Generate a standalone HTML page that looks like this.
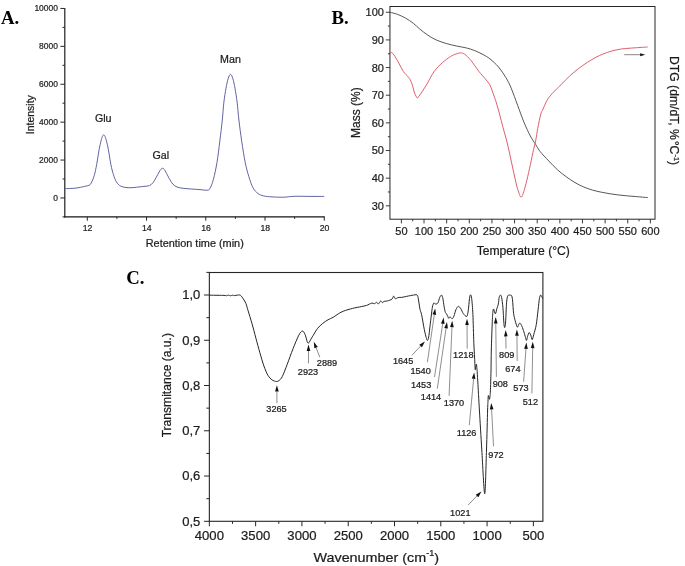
<!DOCTYPE html>
<html><head><meta charset="utf-8"><title>Figure</title>
<style>
html,body{margin:0;padding:0;background:#fff;}
body{width:685px;height:566px;overflow:hidden;font-family:"Liberation Sans",sans-serif;}
svg{display:block;opacity:0.999;will-change:transform;filter:blur(0.38px);}
</style></head><body>
<svg width="685" height="566" viewBox="0 0 685 566">
<rect x="0" y="0" width="685" height="566" fill="#ffffff"/>
<line x1="64.80" y1="7.96" x2="64.80" y2="217.40" stroke="#161616" stroke-width="1.15" />
<line x1="64.30" y1="216.90" x2="324.80" y2="216.90" stroke="#161616" stroke-width="1.15" />
<line x1="60.40" y1="197.95" x2="64.80" y2="197.95" stroke="#262626" stroke-width="1.0" />
<text transform="translate(57.90,197.45) scale(0.94,1)" y="3.22" font-size="9.0" text-anchor="end" font-weight="normal" font-family="'Liberation Sans', sans-serif" fill="#1c1c1c" stroke="#1c1c1c" stroke-width="0.22">0</text>
<line x1="60.40" y1="160.05" x2="64.80" y2="160.05" stroke="#262626" stroke-width="1.0" />
<text transform="translate(57.90,159.55) scale(0.94,1)" y="3.22" font-size="9.0" text-anchor="end" font-weight="normal" font-family="'Liberation Sans', sans-serif" fill="#1c1c1c" stroke="#1c1c1c" stroke-width="0.22">2000</text>
<line x1="60.40" y1="122.15" x2="64.80" y2="122.15" stroke="#262626" stroke-width="1.0" />
<text transform="translate(57.90,121.65) scale(0.94,1)" y="3.22" font-size="9.0" text-anchor="end" font-weight="normal" font-family="'Liberation Sans', sans-serif" fill="#1c1c1c" stroke="#1c1c1c" stroke-width="0.22">4000</text>
<line x1="60.40" y1="84.25" x2="64.80" y2="84.25" stroke="#262626" stroke-width="1.0" />
<text transform="translate(57.90,83.75) scale(0.94,1)" y="3.22" font-size="9.0" text-anchor="end" font-weight="normal" font-family="'Liberation Sans', sans-serif" fill="#1c1c1c" stroke="#1c1c1c" stroke-width="0.22">6000</text>
<line x1="60.40" y1="46.35" x2="64.80" y2="46.35" stroke="#262626" stroke-width="1.0" />
<text transform="translate(57.90,45.85) scale(0.94,1)" y="3.22" font-size="9.0" text-anchor="end" font-weight="normal" font-family="'Liberation Sans', sans-serif" fill="#1c1c1c" stroke="#1c1c1c" stroke-width="0.22">8000</text>
<line x1="60.40" y1="8.45" x2="64.80" y2="8.45" stroke="#262626" stroke-width="1.0" />
<text transform="translate(57.90,7.95) scale(0.94,1)" y="3.22" font-size="9.0" text-anchor="end" font-weight="normal" font-family="'Liberation Sans', sans-serif" fill="#1c1c1c" stroke="#1c1c1c" stroke-width="0.22">10000</text>
<line x1="62.50" y1="216.90" x2="64.80" y2="216.90" stroke="#262626" stroke-width="1.0" />
<line x1="62.50" y1="179.00" x2="64.80" y2="179.00" stroke="#262626" stroke-width="1.0" />
<line x1="62.50" y1="141.10" x2="64.80" y2="141.10" stroke="#262626" stroke-width="1.0" />
<line x1="62.50" y1="103.20" x2="64.80" y2="103.20" stroke="#262626" stroke-width="1.0" />
<line x1="62.50" y1="65.30" x2="64.80" y2="65.30" stroke="#262626" stroke-width="1.0" />
<line x1="62.50" y1="27.40" x2="64.80" y2="27.40" stroke="#262626" stroke-width="1.0" />
<line x1="87.30" y1="216.90" x2="87.30" y2="220.70" stroke="#262626" stroke-width="1.0" />
<text transform="translate(87.60,227.50) scale(0.95,1)" y="3.29" font-size="9.2" text-anchor="middle" font-weight="normal" font-family="'Liberation Sans', sans-serif" fill="#1c1c1c" stroke="#1c1c1c" stroke-width="0.22">12</text>
<line x1="146.54" y1="216.90" x2="146.54" y2="220.70" stroke="#262626" stroke-width="1.0" />
<text transform="translate(146.84,227.50) scale(0.95,1)" y="3.29" font-size="9.2" text-anchor="middle" font-weight="normal" font-family="'Liberation Sans', sans-serif" fill="#1c1c1c" stroke="#1c1c1c" stroke-width="0.22">14</text>
<line x1="205.78" y1="216.90" x2="205.78" y2="220.70" stroke="#262626" stroke-width="1.0" />
<text transform="translate(206.08,227.50) scale(0.95,1)" y="3.29" font-size="9.2" text-anchor="middle" font-weight="normal" font-family="'Liberation Sans', sans-serif" fill="#1c1c1c" stroke="#1c1c1c" stroke-width="0.22">16</text>
<line x1="265.02" y1="216.90" x2="265.02" y2="220.70" stroke="#262626" stroke-width="1.0" />
<text transform="translate(265.32,227.50) scale(0.95,1)" y="3.29" font-size="9.2" text-anchor="middle" font-weight="normal" font-family="'Liberation Sans', sans-serif" fill="#1c1c1c" stroke="#1c1c1c" stroke-width="0.22">18</text>
<line x1="324.26" y1="216.90" x2="324.26" y2="220.70" stroke="#262626" stroke-width="1.0" />
<text transform="translate(324.56,227.50) scale(0.95,1)" y="3.29" font-size="9.2" text-anchor="middle" font-weight="normal" font-family="'Liberation Sans', sans-serif" fill="#1c1c1c" stroke="#1c1c1c" stroke-width="0.22">20</text>
<line x1="116.92" y1="216.90" x2="116.92" y2="218.90" stroke="#262626" stroke-width="1.0" />
<line x1="176.16" y1="216.90" x2="176.16" y2="218.90" stroke="#262626" stroke-width="1.0" />
<line x1="235.40" y1="216.90" x2="235.40" y2="218.90" stroke="#262626" stroke-width="1.0" />
<line x1="294.64" y1="216.90" x2="294.64" y2="218.90" stroke="#262626" stroke-width="1.0" />
<text transform="translate(30.20,114.70) rotate(-90)" y="3.76" font-size="10.5" text-anchor="middle" font-weight="normal" font-family="'Liberation Sans', sans-serif" fill="#1c1c1c" stroke="#1c1c1c" stroke-width="0.22">Intensity</text>
<text transform="translate(194.75,243.50)" y="3.90" font-size="10.9" text-anchor="middle" font-weight="normal" font-family="'Liberation Sans', sans-serif" fill="#1c1c1c" stroke="#1c1c1c" stroke-width="0.22">Retention time (min)</text>
<text transform="translate(103.20,118.40)" y="3.83" font-size="10.7" text-anchor="middle" font-weight="normal" font-family="'Liberation Sans', sans-serif" fill="#1c1c1c" stroke="#1c1c1c" stroke-width="0.22">Glu</text>
<text transform="translate(160.80,155.00)" y="3.83" font-size="10.7" text-anchor="middle" font-weight="normal" font-family="'Liberation Sans', sans-serif" fill="#1c1c1c" stroke="#1c1c1c" stroke-width="0.22">Gal</text>
<text transform="translate(230.50,59.50)" y="3.83" font-size="10.7" text-anchor="middle" font-weight="normal" font-family="'Liberation Sans', sans-serif" fill="#1c1c1c" stroke="#1c1c1c" stroke-width="0.22">Man</text>
<text transform="translate(1.00,24.40) scale(1.03,1)" y="0.00" font-size="18.2" text-anchor="start" font-weight="bold" font-family="'Liberation Serif', serif" fill="#000" stroke="#000" stroke-width="0">A.</text>
<path d="M65.30,188.60 C66.42,188.57 69.88,188.53 72.00,188.40 C74.12,188.27 76.27,188.05 78.00,187.80 C79.73,187.55 81.07,187.18 82.40,186.90 C83.73,186.62 84.87,186.38 86.00,186.10 C87.13,185.82 88.35,185.70 89.20,185.20 C90.05,184.70 90.27,184.68 91.10,183.10 C91.93,181.52 93.28,178.78 94.20,175.70 C95.12,172.62 95.83,168.93 96.65,164.60 C97.47,160.27 98.38,153.62 99.10,149.70 C99.82,145.78 100.45,143.32 101.00,141.10 C101.55,138.88 101.95,137.43 102.40,136.40 C102.85,135.37 103.27,134.90 103.70,134.90 C104.13,134.90 104.53,135.37 105.00,136.40 C105.47,137.43 105.93,138.88 106.50,141.10 C107.07,143.32 107.67,145.78 108.40,149.70 C109.13,153.62 110.07,160.47 110.90,164.60 C111.73,168.73 112.48,171.62 113.40,174.50 C114.32,177.38 115.17,179.95 116.40,181.90 C117.63,183.85 119.03,185.25 120.80,186.20 C122.57,187.15 124.97,187.37 127.00,187.60 C129.03,187.83 130.80,187.73 133.00,187.60 C135.20,187.47 138.20,187.02 140.20,186.80 C142.20,186.58 143.47,186.50 145.00,186.30 C146.53,186.10 148.07,186.20 149.40,185.60 C150.73,185.00 151.88,184.03 153.00,182.70 C154.12,181.37 155.08,179.38 156.10,177.60 C157.12,175.82 158.30,173.38 159.10,172.00 C159.90,170.62 160.33,169.93 160.90,169.30 C161.47,168.67 161.97,168.20 162.50,168.20 C163.03,168.20 163.55,168.67 164.10,169.30 C164.65,169.93 164.93,170.45 165.80,172.00 C166.67,173.55 168.12,176.57 169.30,178.60 C170.48,180.63 171.62,182.80 172.90,184.20 C174.18,185.60 175.30,186.32 177.00,187.00 C178.70,187.68 180.72,187.97 183.10,188.30 C185.48,188.63 188.48,188.78 191.30,189.00 C194.12,189.22 197.37,189.40 200.00,189.60 C202.63,189.80 205.45,190.37 207.10,190.20 C208.75,190.03 208.85,190.40 209.90,188.60 C210.95,186.80 212.22,183.77 213.40,179.40 C214.58,175.03 215.93,168.77 217.00,162.40 C218.07,156.03 218.92,148.27 219.80,141.20 C220.68,134.13 221.62,126.52 222.30,120.00 C222.98,113.48 223.28,107.38 223.90,102.10 C224.52,96.82 225.30,92.18 226.00,88.30 C226.70,84.42 227.35,81.13 228.10,78.80 C228.85,76.47 229.70,74.30 230.50,74.30 C231.30,74.30 232.15,76.47 232.90,78.80 C233.65,81.13 234.30,84.42 235.00,88.30 C235.70,92.18 236.45,96.82 237.10,102.10 C237.75,107.38 238.13,113.48 238.90,120.00 C239.67,126.52 240.65,134.13 241.70,141.20 C242.75,148.27 244.02,156.52 245.20,162.40 C246.38,168.28 247.50,172.27 248.80,176.50 C250.10,180.73 251.47,184.97 253.00,187.80 C254.53,190.63 256.23,192.15 258.00,193.50 C259.77,194.85 261.27,195.33 263.60,195.90 C265.93,196.47 268.65,196.68 272.00,196.90 C275.35,197.12 280.00,197.30 283.70,197.20 C287.40,197.10 289.82,196.43 294.20,196.30 C298.58,196.17 304.98,196.38 310.00,196.40 C315.02,196.42 321.92,196.40 324.30,196.40" fill="none" stroke="#585c9c" stroke-width="0.95" stroke-linejoin="round"/>
<rect x="389.95" y="6.5" width="265.05" height="212.70" fill="none" stroke="#262626" stroke-width="1.0"/>
<line x1="385.85" y1="205.81" x2="389.95" y2="205.81" stroke="#262626" stroke-width="0.9" />
<text transform="translate(383.90,205.81)" y="3.94" font-size="11" text-anchor="end" font-weight="normal" font-family="'Liberation Sans', sans-serif" fill="#1c1c1c" stroke="#1c1c1c" stroke-width="0.22">30</text>
<line x1="385.85" y1="178.16" x2="389.95" y2="178.16" stroke="#262626" stroke-width="0.9" />
<text transform="translate(383.90,178.16)" y="3.94" font-size="11" text-anchor="end" font-weight="normal" font-family="'Liberation Sans', sans-serif" fill="#1c1c1c" stroke="#1c1c1c" stroke-width="0.22">40</text>
<line x1="385.85" y1="150.51" x2="389.95" y2="150.51" stroke="#262626" stroke-width="0.9" />
<text transform="translate(383.90,150.51)" y="3.94" font-size="11" text-anchor="end" font-weight="normal" font-family="'Liberation Sans', sans-serif" fill="#1c1c1c" stroke="#1c1c1c" stroke-width="0.22">50</text>
<line x1="385.85" y1="122.86" x2="389.95" y2="122.86" stroke="#262626" stroke-width="0.9" />
<text transform="translate(383.90,122.86)" y="3.94" font-size="11" text-anchor="end" font-weight="normal" font-family="'Liberation Sans', sans-serif" fill="#1c1c1c" stroke="#1c1c1c" stroke-width="0.22">60</text>
<line x1="385.85" y1="95.21" x2="389.95" y2="95.21" stroke="#262626" stroke-width="0.9" />
<text transform="translate(383.90,95.21)" y="3.94" font-size="11" text-anchor="end" font-weight="normal" font-family="'Liberation Sans', sans-serif" fill="#1c1c1c" stroke="#1c1c1c" stroke-width="0.22">70</text>
<line x1="385.85" y1="67.56" x2="389.95" y2="67.56" stroke="#262626" stroke-width="0.9" />
<text transform="translate(383.90,67.56)" y="3.94" font-size="11" text-anchor="end" font-weight="normal" font-family="'Liberation Sans', sans-serif" fill="#1c1c1c" stroke="#1c1c1c" stroke-width="0.22">80</text>
<line x1="385.85" y1="39.91" x2="389.95" y2="39.91" stroke="#262626" stroke-width="0.9" />
<text transform="translate(383.90,39.91)" y="3.94" font-size="11" text-anchor="end" font-weight="normal" font-family="'Liberation Sans', sans-serif" fill="#1c1c1c" stroke="#1c1c1c" stroke-width="0.22">90</text>
<line x1="385.85" y1="12.26" x2="389.95" y2="12.26" stroke="#262626" stroke-width="0.9" />
<text transform="translate(383.90,12.26)" y="3.94" font-size="11" text-anchor="end" font-weight="normal" font-family="'Liberation Sans', sans-serif" fill="#1c1c1c" stroke="#1c1c1c" stroke-width="0.22">100</text>
<line x1="387.85" y1="191.98" x2="389.95" y2="191.98" stroke="#262626" stroke-width="0.9" />
<line x1="387.85" y1="164.34" x2="389.95" y2="164.34" stroke="#262626" stroke-width="0.9" />
<line x1="387.85" y1="136.69" x2="389.95" y2="136.69" stroke="#262626" stroke-width="0.9" />
<line x1="387.85" y1="109.04" x2="389.95" y2="109.04" stroke="#262626" stroke-width="0.9" />
<line x1="387.85" y1="81.39" x2="389.95" y2="81.39" stroke="#262626" stroke-width="0.9" />
<line x1="387.85" y1="53.73" x2="389.95" y2="53.73" stroke="#262626" stroke-width="0.9" />
<line x1="387.85" y1="26.09" x2="389.95" y2="26.09" stroke="#262626" stroke-width="0.9" />
<line x1="401.40" y1="219.20" x2="401.40" y2="223.40" stroke="#262626" stroke-width="0.9" />
<text transform="translate(401.40,231.30)" y="3.94" font-size="11" text-anchor="middle" font-weight="normal" font-family="'Liberation Sans', sans-serif" fill="#1c1c1c" stroke="#1c1c1c" stroke-width="0.22">50</text>
<line x1="424.03" y1="219.20" x2="424.03" y2="223.40" stroke="#262626" stroke-width="0.9" />
<text transform="translate(424.03,231.30)" y="3.94" font-size="11" text-anchor="middle" font-weight="normal" font-family="'Liberation Sans', sans-serif" fill="#1c1c1c" stroke="#1c1c1c" stroke-width="0.22">100</text>
<line x1="446.67" y1="219.20" x2="446.67" y2="223.40" stroke="#262626" stroke-width="0.9" />
<text transform="translate(446.67,231.30)" y="3.94" font-size="11" text-anchor="middle" font-weight="normal" font-family="'Liberation Sans', sans-serif" fill="#1c1c1c" stroke="#1c1c1c" stroke-width="0.22">150</text>
<line x1="469.30" y1="219.20" x2="469.30" y2="223.40" stroke="#262626" stroke-width="0.9" />
<text transform="translate(469.30,231.30)" y="3.94" font-size="11" text-anchor="middle" font-weight="normal" font-family="'Liberation Sans', sans-serif" fill="#1c1c1c" stroke="#1c1c1c" stroke-width="0.22">200</text>
<line x1="491.94" y1="219.20" x2="491.94" y2="223.40" stroke="#262626" stroke-width="0.9" />
<text transform="translate(491.94,231.30)" y="3.94" font-size="11" text-anchor="middle" font-weight="normal" font-family="'Liberation Sans', sans-serif" fill="#1c1c1c" stroke="#1c1c1c" stroke-width="0.22">250</text>
<line x1="514.57" y1="219.20" x2="514.57" y2="223.40" stroke="#262626" stroke-width="0.9" />
<text transform="translate(514.57,231.30)" y="3.94" font-size="11" text-anchor="middle" font-weight="normal" font-family="'Liberation Sans', sans-serif" fill="#1c1c1c" stroke="#1c1c1c" stroke-width="0.22">300</text>
<line x1="537.21" y1="219.20" x2="537.21" y2="223.40" stroke="#262626" stroke-width="0.9" />
<text transform="translate(537.21,231.30)" y="3.94" font-size="11" text-anchor="middle" font-weight="normal" font-family="'Liberation Sans', sans-serif" fill="#1c1c1c" stroke="#1c1c1c" stroke-width="0.22">350</text>
<line x1="559.85" y1="219.20" x2="559.85" y2="223.40" stroke="#262626" stroke-width="0.9" />
<text transform="translate(559.85,231.30)" y="3.94" font-size="11" text-anchor="middle" font-weight="normal" font-family="'Liberation Sans', sans-serif" fill="#1c1c1c" stroke="#1c1c1c" stroke-width="0.22">400</text>
<line x1="582.48" y1="219.20" x2="582.48" y2="223.40" stroke="#262626" stroke-width="0.9" />
<text transform="translate(582.48,231.30)" y="3.94" font-size="11" text-anchor="middle" font-weight="normal" font-family="'Liberation Sans', sans-serif" fill="#1c1c1c" stroke="#1c1c1c" stroke-width="0.22">450</text>
<line x1="605.12" y1="219.20" x2="605.12" y2="223.40" stroke="#262626" stroke-width="0.9" />
<text transform="translate(605.12,231.30)" y="3.94" font-size="11" text-anchor="middle" font-weight="normal" font-family="'Liberation Sans', sans-serif" fill="#1c1c1c" stroke="#1c1c1c" stroke-width="0.22">500</text>
<line x1="627.75" y1="219.20" x2="627.75" y2="223.40" stroke="#262626" stroke-width="0.9" />
<text transform="translate(627.75,231.30)" y="3.94" font-size="11" text-anchor="middle" font-weight="normal" font-family="'Liberation Sans', sans-serif" fill="#1c1c1c" stroke="#1c1c1c" stroke-width="0.22">550</text>
<line x1="650.38" y1="219.20" x2="650.38" y2="223.40" stroke="#262626" stroke-width="0.9" />
<text transform="translate(650.38,231.30)" y="3.94" font-size="11" text-anchor="middle" font-weight="normal" font-family="'Liberation Sans', sans-serif" fill="#1c1c1c" stroke="#1c1c1c" stroke-width="0.22">600</text>
<line x1="412.72" y1="219.20" x2="412.72" y2="221.30" stroke="#262626" stroke-width="0.9" />
<line x1="435.35" y1="219.20" x2="435.35" y2="221.30" stroke="#262626" stroke-width="0.9" />
<line x1="457.99" y1="219.20" x2="457.99" y2="221.30" stroke="#262626" stroke-width="0.9" />
<line x1="480.62" y1="219.20" x2="480.62" y2="221.30" stroke="#262626" stroke-width="0.9" />
<line x1="503.26" y1="219.20" x2="503.26" y2="221.30" stroke="#262626" stroke-width="0.9" />
<line x1="525.89" y1="219.20" x2="525.89" y2="221.30" stroke="#262626" stroke-width="0.9" />
<line x1="548.53" y1="219.20" x2="548.53" y2="221.30" stroke="#262626" stroke-width="0.9" />
<line x1="571.16" y1="219.20" x2="571.16" y2="221.30" stroke="#262626" stroke-width="0.9" />
<line x1="593.80" y1="219.20" x2="593.80" y2="221.30" stroke="#262626" stroke-width="0.9" />
<line x1="616.43" y1="219.20" x2="616.43" y2="221.30" stroke="#262626" stroke-width="0.9" />
<line x1="639.07" y1="219.20" x2="639.07" y2="221.30" stroke="#262626" stroke-width="0.9" />
<text transform="translate(355.80,112.70) rotate(-90)" y="4.30" font-size="12" text-anchor="middle" font-weight="normal" font-family="'Liberation Sans', sans-serif" fill="#1c1c1c" stroke="#1c1c1c" stroke-width="0.22">Mass (%)</text>
<text transform="translate(523.30,250.30)" y="4.35" font-size="12.15" text-anchor="middle" font-weight="normal" font-family="'Liberation Sans', sans-serif" fill="#1c1c1c" stroke="#1c1c1c" stroke-width="0.22">Temperature (°C)</text>
<text transform="translate(674.20,110.60) rotate(90)" y="4.35" font-size="12.15" text-anchor="middle" font-weight="normal" font-family="'Liberation Sans', sans-serif" fill="#1c1c1c" stroke="#1c1c1c" stroke-width="0.22">DTG (dm/dT, %&#8202;°C<tspan font-size="7.5" dy="-4.5">-1</tspan><tspan dy="4.5">)</tspan></text>
<text transform="translate(331.50,24.40) scale(1.03,1)" y="0.00" font-size="18.2" text-anchor="start" font-weight="bold" font-family="'Liberation Serif', serif" fill="#000" stroke="#000" stroke-width="0">B.</text>
<path d="M390.10,12.30 C391.30,12.63 394.75,13.35 397.30,14.30 C399.85,15.25 402.68,16.47 405.40,18.00 C408.12,19.53 411.22,21.67 413.60,23.50 C415.98,25.33 417.32,27.05 419.70,29.00 C422.08,30.95 425.17,33.38 427.90,35.20 C430.63,37.02 433.03,38.52 436.10,39.90 C439.17,41.28 442.90,42.48 446.30,43.50 C449.70,44.52 453.10,45.25 456.50,46.00 C459.90,46.75 463.63,47.22 466.70,48.00 C469.77,48.78 472.17,49.60 474.90,50.70 C477.63,51.80 480.58,53.23 483.10,54.60 C485.62,55.97 487.43,56.83 490.00,58.90 C492.57,60.97 495.85,63.88 498.50,67.00 C501.15,70.12 503.78,74.07 505.90,77.60 C508.02,81.13 509.25,83.60 511.20,88.20 C513.15,92.80 515.48,99.55 517.60,105.20 C519.72,110.85 521.78,116.98 523.90,122.10 C526.02,127.22 528.35,132.18 530.30,135.90 C532.25,139.62 533.98,141.82 535.60,144.40 C537.22,146.98 537.80,148.63 540.00,151.40 C542.20,154.17 545.88,157.93 548.80,161.00 C551.72,164.07 554.58,167.17 557.50,169.80 C560.42,172.43 563.38,174.67 566.30,176.80 C569.22,178.93 572.08,180.90 575.00,182.60 C577.92,184.30 580.87,185.75 583.80,187.00 C586.73,188.25 589.68,189.23 592.60,190.10 C595.52,190.97 598.38,191.58 601.30,192.20 C604.22,192.82 607.18,193.33 610.10,193.80 C613.02,194.27 615.88,194.65 618.80,195.00 C621.72,195.35 624.67,195.63 627.60,195.90 C630.53,196.17 633.05,196.32 636.40,196.60 C639.75,196.88 645.82,197.43 647.70,197.60" fill="none" stroke="#444" stroke-width="0.9"/>
<path d="M390.10,52.50 C390.55,52.67 391.60,52.20 392.80,53.50 C394.00,54.80 395.53,57.30 397.30,60.30 C399.07,63.30 401.53,68.67 403.40,71.50 C405.27,74.33 407.13,75.42 408.50,77.30 C409.87,79.18 410.58,80.18 411.60,82.80 C412.62,85.42 413.68,90.52 414.60,93.00 C415.52,95.48 416.42,97.12 417.10,97.70 C417.78,98.28 417.23,98.48 418.70,96.50 C420.17,94.52 423.33,89.97 425.90,85.80 C428.47,81.63 431.38,75.32 434.10,71.50 C436.82,67.68 439.48,65.38 442.20,62.90 C444.92,60.42 448.02,58.12 450.40,56.60 C452.78,55.08 454.80,54.42 456.50,53.80 C458.20,53.18 459.23,52.83 460.60,52.90 C461.97,52.97 463.00,52.97 464.70,54.20 C466.40,55.43 468.42,57.42 470.80,60.30 C473.18,63.18 476.62,68.43 479.00,71.50 C481.38,74.57 483.27,76.45 485.10,78.70 C486.93,80.95 488.63,82.45 490.00,85.00 C491.37,87.55 492.23,91.00 493.30,94.00 C494.37,97.00 495.32,99.50 496.40,103.00 C497.48,106.50 498.75,111.10 499.80,115.00 C500.85,118.90 501.58,122.23 502.70,126.40 C503.82,130.57 505.30,135.25 506.50,140.00 C507.70,144.75 508.75,149.73 509.90,154.90 C511.05,160.07 512.25,165.82 513.40,171.00 C514.55,176.18 515.85,182.27 516.80,186.00 C517.75,189.73 518.53,191.70 519.10,193.40 C519.67,195.10 519.85,195.58 520.20,196.20 C520.55,196.82 520.87,197.10 521.20,197.10 C521.53,197.10 521.87,196.82 522.20,196.20 C522.53,195.58 522.57,195.48 523.20,193.40 C523.83,191.32 524.95,187.82 526.00,183.70 C527.05,179.58 528.35,173.88 529.50,168.70 C530.65,163.52 531.85,157.38 532.90,152.60 C533.95,147.82 535.00,144.02 535.80,140.00 C536.60,135.98 536.85,132.90 537.70,128.50 C538.55,124.10 540.08,116.67 540.90,113.60 C541.72,110.53 541.58,112.30 542.60,110.10 C543.62,107.90 545.38,103.18 547.00,100.40 C548.62,97.62 549.97,96.02 552.30,93.40 C554.63,90.78 558.08,87.62 561.00,84.70 C563.92,81.78 566.88,78.58 569.80,75.90 C572.72,73.22 575.58,70.85 578.50,68.60 C581.42,66.35 584.37,64.30 587.30,62.40 C590.23,60.50 593.47,58.60 596.10,57.20 C598.73,55.80 600.48,55.03 603.10,54.00 C605.72,52.97 608.88,51.82 611.80,51.00 C614.72,50.18 617.38,49.58 620.60,49.10 C623.82,48.62 626.58,48.45 631.10,48.10 C635.62,47.75 644.93,47.18 647.70,47.00" fill="none" stroke="#db5565" stroke-width="0.95"/>
<line x1="624.10" y1="54.70" x2="640.10" y2="54.70" stroke="#555" stroke-width="0.7" />
<polygon points="645.30,54.70 640.10,56.25 640.10,53.15" fill="#111"/>
<rect x="209.35" y="272.5" width="333.55" height="248.80" fill="none" stroke="#262626" stroke-width="1.1"/>
<line x1="204.05" y1="295.00" x2="209.35" y2="295.00" stroke="#262626" stroke-width="1.0" />
<text transform="translate(200.30,295.00) scale(1.05,1)" y="4.44" font-size="12.4" text-anchor="end" font-weight="normal" font-family="'Liberation Sans', sans-serif" fill="#1c1c1c" stroke="#1c1c1c" stroke-width="0.22">1,0</text>
<line x1="204.05" y1="340.26" x2="209.35" y2="340.26" stroke="#262626" stroke-width="1.0" />
<text transform="translate(200.30,340.26) scale(1.05,1)" y="4.44" font-size="12.4" text-anchor="end" font-weight="normal" font-family="'Liberation Sans', sans-serif" fill="#1c1c1c" stroke="#1c1c1c" stroke-width="0.22">0,9</text>
<line x1="204.05" y1="385.52" x2="209.35" y2="385.52" stroke="#262626" stroke-width="1.0" />
<text transform="translate(200.30,385.52) scale(1.05,1)" y="4.44" font-size="12.4" text-anchor="end" font-weight="normal" font-family="'Liberation Sans', sans-serif" fill="#1c1c1c" stroke="#1c1c1c" stroke-width="0.22">0,8</text>
<line x1="204.05" y1="430.78" x2="209.35" y2="430.78" stroke="#262626" stroke-width="1.0" />
<text transform="translate(200.30,430.78) scale(1.05,1)" y="4.44" font-size="12.4" text-anchor="end" font-weight="normal" font-family="'Liberation Sans', sans-serif" fill="#1c1c1c" stroke="#1c1c1c" stroke-width="0.22">0,7</text>
<line x1="204.05" y1="476.04" x2="209.35" y2="476.04" stroke="#262626" stroke-width="1.0" />
<text transform="translate(200.30,476.04) scale(1.05,1)" y="4.44" font-size="12.4" text-anchor="end" font-weight="normal" font-family="'Liberation Sans', sans-serif" fill="#1c1c1c" stroke="#1c1c1c" stroke-width="0.22">0,6</text>
<line x1="204.05" y1="521.30" x2="209.35" y2="521.30" stroke="#262626" stroke-width="1.0" />
<text transform="translate(200.30,521.30) scale(1.05,1)" y="4.44" font-size="12.4" text-anchor="end" font-weight="normal" font-family="'Liberation Sans', sans-serif" fill="#1c1c1c" stroke="#1c1c1c" stroke-width="0.22">0,5</text>
<line x1="206.35" y1="272.37" x2="209.35" y2="272.37" stroke="#262626" stroke-width="1.0" />
<line x1="206.35" y1="317.63" x2="209.35" y2="317.63" stroke="#262626" stroke-width="1.0" />
<line x1="206.35" y1="362.89" x2="209.35" y2="362.89" stroke="#262626" stroke-width="1.0" />
<line x1="206.35" y1="408.15" x2="209.35" y2="408.15" stroke="#262626" stroke-width="1.0" />
<line x1="206.35" y1="453.41" x2="209.35" y2="453.41" stroke="#262626" stroke-width="1.0" />
<line x1="206.35" y1="498.67" x2="209.35" y2="498.67" stroke="#262626" stroke-width="1.0" />
<line x1="209.35" y1="521.30" x2="209.35" y2="526.30" stroke="#262626" stroke-width="1.0" />
<text transform="translate(209.35,535.10) scale(1.04,1)" y="4.51" font-size="12.6" text-anchor="middle" font-weight="normal" font-family="'Liberation Sans', sans-serif" fill="#1c1c1c" stroke="#1c1c1c" stroke-width="0.22">4000</text>
<line x1="255.64" y1="521.30" x2="255.64" y2="526.30" stroke="#262626" stroke-width="1.0" />
<text transform="translate(255.64,535.10) scale(1.04,1)" y="4.51" font-size="12.6" text-anchor="middle" font-weight="normal" font-family="'Liberation Sans', sans-serif" fill="#1c1c1c" stroke="#1c1c1c" stroke-width="0.22">3500</text>
<line x1="301.93" y1="521.30" x2="301.93" y2="526.30" stroke="#262626" stroke-width="1.0" />
<text transform="translate(301.93,535.10) scale(1.04,1)" y="4.51" font-size="12.6" text-anchor="middle" font-weight="normal" font-family="'Liberation Sans', sans-serif" fill="#1c1c1c" stroke="#1c1c1c" stroke-width="0.22">3000</text>
<line x1="348.22" y1="521.30" x2="348.22" y2="526.30" stroke="#262626" stroke-width="1.0" />
<text transform="translate(348.22,535.10) scale(1.04,1)" y="4.51" font-size="12.6" text-anchor="middle" font-weight="normal" font-family="'Liberation Sans', sans-serif" fill="#1c1c1c" stroke="#1c1c1c" stroke-width="0.22">2500</text>
<line x1="394.51" y1="521.30" x2="394.51" y2="526.30" stroke="#262626" stroke-width="1.0" />
<text transform="translate(394.51,535.10) scale(1.04,1)" y="4.51" font-size="12.6" text-anchor="middle" font-weight="normal" font-family="'Liberation Sans', sans-serif" fill="#1c1c1c" stroke="#1c1c1c" stroke-width="0.22">2000</text>
<line x1="440.80" y1="521.30" x2="440.80" y2="526.30" stroke="#262626" stroke-width="1.0" />
<text transform="translate(440.80,535.10) scale(1.04,1)" y="4.51" font-size="12.6" text-anchor="middle" font-weight="normal" font-family="'Liberation Sans', sans-serif" fill="#1c1c1c" stroke="#1c1c1c" stroke-width="0.22">1500</text>
<line x1="487.09" y1="521.30" x2="487.09" y2="526.30" stroke="#262626" stroke-width="1.0" />
<text transform="translate(487.09,535.10) scale(1.04,1)" y="4.51" font-size="12.6" text-anchor="middle" font-weight="normal" font-family="'Liberation Sans', sans-serif" fill="#1c1c1c" stroke="#1c1c1c" stroke-width="0.22">1000</text>
<line x1="533.38" y1="521.30" x2="533.38" y2="526.30" stroke="#262626" stroke-width="1.0" />
<text transform="translate(533.38,535.10) scale(1.04,1)" y="4.51" font-size="12.6" text-anchor="middle" font-weight="normal" font-family="'Liberation Sans', sans-serif" fill="#1c1c1c" stroke="#1c1c1c" stroke-width="0.22">500</text>
<line x1="232.50" y1="521.30" x2="232.50" y2="523.80" stroke="#262626" stroke-width="1.0" />
<line x1="278.78" y1="521.30" x2="278.78" y2="523.80" stroke="#262626" stroke-width="1.0" />
<line x1="325.07" y1="521.30" x2="325.07" y2="523.80" stroke="#262626" stroke-width="1.0" />
<line x1="371.37" y1="521.30" x2="371.37" y2="523.80" stroke="#262626" stroke-width="1.0" />
<line x1="417.65" y1="521.30" x2="417.65" y2="523.80" stroke="#262626" stroke-width="1.0" />
<line x1="463.94" y1="521.30" x2="463.94" y2="523.80" stroke="#262626" stroke-width="1.0" />
<line x1="510.24" y1="521.30" x2="510.24" y2="523.80" stroke="#262626" stroke-width="1.0" />
<text transform="translate(166.00,385.20) scale(1.1,1) rotate(-90)" y="4.33" font-size="12.1" text-anchor="middle" font-weight="normal" font-family="'Liberation Sans', sans-serif" fill="#1c1c1c" stroke="#1c1c1c" stroke-width="0.22">Transmitance (a.u.)</text>
<text transform="translate(376.30,557.40) scale(1.105,1)" y="4.65" font-size="13" text-anchor="middle" font-weight="normal" font-family="'Liberation Sans', sans-serif" fill="#1c1c1c" stroke="#1c1c1c" stroke-width="0.22">Wavenumber (cm<tspan font-size="8.3" dy="-6.2">-1</tspan><tspan dy="6.2">)</tspan></text>
<text transform="translate(126.30,284.40) scale(1.03,1)" y="0.00" font-size="18.2" text-anchor="start" font-weight="bold" font-family="'Liberation Serif', serif" fill="#000" stroke="#000" stroke-width="0">C.</text>
<path d="M209.70,295.20 C210.94,295.21 215.85,295.27 218.00,295.30 C220.15,295.33 222.72,295.34 224.00,295.40 C225.28,295.46 225.82,295.75 226.50,295.70 C227.18,295.65 227.90,295.09 228.50,295.10 C229.10,295.12 229.90,295.79 230.50,295.80 C231.10,295.81 231.90,295.23 232.50,295.20 C233.10,295.17 233.75,295.62 234.50,295.60 C235.25,295.59 236.62,295.15 237.50,295.10 C238.38,295.06 239.53,294.73 240.40,295.30 C241.27,295.87 242.48,297.67 243.30,298.90 C244.12,300.13 245.19,301.77 245.90,303.50 C246.61,305.23 247.09,307.38 248.00,310.40 C248.91,313.41 250.81,319.43 252.00,323.60 C253.19,327.77 254.72,333.82 255.90,338.20 C257.08,342.58 258.70,348.63 259.90,352.80 C261.10,356.97 262.70,362.62 263.90,366.00 C265.10,369.38 266.70,373.23 267.90,375.30 C269.10,377.37 270.92,378.94 271.90,379.80 C272.88,380.66 273.68,380.75 274.40,381.00 C275.12,381.25 276.01,381.56 276.70,381.50 C277.39,381.44 278.16,381.34 279.00,380.60 C279.84,379.87 281.07,379.03 282.30,376.60 C283.53,374.17 285.59,368.57 287.20,364.40 C288.81,360.23 291.26,353.18 293.00,348.80 C294.74,344.42 297.41,337.87 298.80,335.20 C300.19,332.53 301.37,331.13 302.30,331.00 C303.23,330.87 304.26,332.71 305.00,334.30 C305.74,335.89 306.70,340.27 307.20,341.60 C307.69,342.94 307.95,343.17 308.30,343.20 C308.65,343.23 309.17,342.30 309.50,341.80 C309.83,341.31 309.96,340.83 310.50,339.90 C311.04,338.97 312.05,337.31 313.10,335.60 C314.15,333.89 316.05,330.35 317.50,328.50 C318.95,326.65 321.23,324.61 322.80,323.30 C324.38,322.00 326.43,320.72 328.00,319.80 C329.57,318.88 331.73,318.12 333.30,317.20 C334.88,316.28 336.93,314.63 338.50,313.70 C340.07,312.77 341.69,311.80 343.80,311.00 C345.92,310.20 349.98,309.06 352.60,308.40 C355.23,307.74 359.20,307.05 361.30,306.60 C363.40,306.15 365.03,305.92 366.60,305.40 C368.18,304.88 370.62,303.36 371.80,303.10 C372.99,302.85 373.78,303.82 374.50,303.70 C375.22,303.58 376.03,302.25 376.60,302.30 C377.17,302.35 377.70,304.19 378.30,304.00 C378.90,303.81 380.00,301.21 380.60,301.00 C381.20,300.79 381.78,302.54 382.30,302.60 C382.82,302.66 383.31,301.65 384.10,301.40 C384.90,301.14 386.42,301.24 387.60,300.90 C388.79,300.56 391.08,299.82 392.00,299.10 C392.92,298.38 393.18,296.15 393.70,296.10 C394.22,296.06 394.84,298.59 395.50,298.80 C396.16,299.01 397.19,297.71 398.10,297.50 C399.02,297.29 400.55,297.52 401.60,297.40 C402.65,297.28 403.53,297.01 405.10,296.70 C406.68,296.38 410.32,295.57 412.10,295.30 C413.88,295.03 416.07,294.38 417.00,294.90 C417.93,295.42 417.85,296.64 418.30,298.80 C418.75,300.96 419.50,306.92 420.00,309.30 C420.50,311.69 420.96,311.67 421.60,314.70 C422.25,317.73 423.61,326.08 424.30,329.50 C424.99,332.92 425.74,335.87 426.20,337.50 C426.66,339.13 427.02,340.49 427.40,340.40 C427.77,340.31 428.24,339.66 428.70,336.90 C429.16,334.14 429.94,326.45 430.50,322.00 C431.06,317.55 431.89,310.06 432.40,307.20 C432.91,304.33 433.43,303.36 433.90,302.90 C434.37,302.44 434.90,304.10 435.50,304.10 C436.10,304.10 437.25,303.92 437.90,302.90 C438.54,301.88 439.25,298.47 439.80,297.30 C440.36,296.13 441.14,294.91 441.60,295.10 C442.06,295.30 442.52,296.88 442.90,298.60 C443.27,300.33 443.73,304.53 444.10,306.60 C444.48,308.67 445.02,311.29 445.40,312.40 C445.77,313.51 446.24,313.38 446.60,314.00 C446.96,314.62 447.49,315.86 447.80,316.50 C448.12,317.14 448.41,318.24 448.70,318.30 C448.99,318.36 449.37,316.99 449.70,316.90 C450.03,316.81 450.50,317.44 450.90,317.70 C451.30,317.95 451.93,318.87 452.40,318.60 C452.87,318.33 453.48,317.23 454.00,315.90 C454.52,314.56 455.25,311.14 455.90,309.70 C456.54,308.26 457.56,306.45 458.30,306.30 C459.04,306.15 460.05,307.60 460.80,308.70 C461.55,309.80 462.42,312.43 463.30,313.60 C464.19,314.77 465.96,316.91 466.70,316.50 C467.44,316.09 467.78,313.58 468.20,310.90 C468.62,308.21 469.15,301.02 469.50,298.60 C469.85,296.19 470.17,294.80 470.50,294.80 C470.83,294.80 471.34,295.63 471.70,298.60 C472.06,301.57 472.58,308.03 472.90,314.60 C473.21,321.17 473.55,335.89 473.80,342.40 C474.06,348.91 474.39,353.92 474.60,358.00 C474.81,362.08 475.02,368.36 475.20,369.60 C475.38,370.85 475.62,367.10 475.80,366.30 C475.98,365.50 476.22,363.82 476.40,364.30 C476.58,364.78 476.79,366.88 477.00,369.50 C477.21,372.12 477.44,375.73 477.80,381.80 C478.16,387.88 478.80,399.77 479.40,410.00 C480.00,420.23 481.00,437.42 481.80,450.00 C482.60,462.58 484.00,493.90 484.70,493.90 C485.40,493.90 486.06,462.58 486.50,450.00 C486.94,437.42 487.38,417.35 487.60,410.00 C487.83,402.65 487.89,403.16 488.00,401.00 C488.11,398.84 488.17,396.11 488.30,395.60 C488.44,395.09 488.72,397.05 488.90,397.60 C489.08,398.16 489.33,399.54 489.50,399.30 C489.67,399.06 489.87,397.25 490.00,396.00 C490.13,394.75 490.25,394.75 490.40,391.00 C490.55,387.25 490.87,377.15 491.00,371.00 C491.13,364.85 491.11,357.47 491.30,350.00 C491.50,342.53 492.06,326.90 492.30,321.20 C492.54,315.50 492.70,313.83 492.90,312.00 C493.09,310.17 493.23,308.73 493.60,309.00 C493.98,309.27 494.90,313.88 495.40,313.80 C495.89,313.73 496.46,309.95 496.90,308.50 C497.33,307.05 497.95,305.78 498.30,304.10 C498.65,302.42 498.88,298.65 499.20,297.30 C499.51,295.95 500.04,295.10 500.40,295.10 C500.76,295.10 501.23,295.49 501.60,297.30 C501.98,299.12 502.56,303.30 502.90,307.20 C503.24,311.10 503.63,320.24 503.90,323.30 C504.17,326.36 504.44,327.80 504.70,327.60 C504.95,327.41 505.31,325.80 505.60,322.00 C505.89,318.20 506.27,306.23 506.60,302.30 C506.93,298.37 507.34,296.88 507.80,295.80 C508.26,294.72 509.14,295.15 509.70,295.10 C510.25,295.06 511.08,294.80 511.50,295.50 C511.92,296.20 512.18,297.12 512.50,299.80 C512.82,302.49 513.20,310.25 513.60,313.40 C514.00,316.55 514.71,318.85 515.20,320.80 C515.70,322.75 516.52,325.47 516.90,326.40 C517.27,327.33 517.38,327.38 517.70,327.00 C518.02,326.62 518.62,324.45 519.00,323.90 C519.38,323.34 519.75,322.93 520.20,323.30 C520.65,323.68 521.45,325.11 522.00,326.40 C522.55,327.69 523.38,330.23 523.90,331.90 C524.42,333.56 525.11,336.23 525.50,337.50 C525.89,338.77 526.18,340.58 526.50,340.40 C526.82,340.22 527.21,337.47 527.60,336.30 C527.99,335.13 528.63,332.80 529.10,332.60 C529.57,332.41 530.24,333.95 530.70,335.00 C531.17,336.05 531.74,339.69 532.20,339.60 C532.67,339.51 533.18,336.66 533.80,334.40 C534.41,332.13 535.65,328.20 536.30,324.50 C536.94,320.80 537.63,313.58 538.10,309.70 C538.57,305.81 539.02,300.79 539.40,298.60 C539.77,296.41 540.24,295.39 540.60,295.10 C540.96,294.81 541.47,296.18 541.80,296.70 C542.13,297.22 542.65,298.31 542.80,298.60" fill="none" stroke="#262626" stroke-width="1.0" stroke-linejoin="round"/>
<line x1="276.90" y1="403.20" x2="276.90" y2="391.60" stroke="#6a6a6a" stroke-width="0.75" />
<polygon points="276.90,385.30 278.75,391.60 275.05,391.60" fill="#111"/>
<line x1="308.50" y1="363.40" x2="308.50" y2="350.90" stroke="#6a6a6a" stroke-width="0.75" />
<polygon points="308.50,344.60 310.35,350.90 306.65,350.90" fill="#111"/>
<line x1="319.80" y1="357.20" x2="316.07" y2="347.58" stroke="#6a6a6a" stroke-width="0.75" />
<polygon points="313.80,341.70 317.80,346.91 314.35,348.24" fill="#111"/>
<line x1="411.80" y1="355.40" x2="420.58" y2="346.08" stroke="#6a6a6a" stroke-width="0.75" />
<polygon points="424.90,341.50 421.93,347.35 419.23,344.82" fill="#111"/>
<line x1="427.40" y1="362.20" x2="434.30" y2="314.63" stroke="#6a6a6a" stroke-width="0.75" />
<polygon points="435.20,308.40 436.13,314.90 432.47,314.37" fill="#111"/>
<line x1="434.50" y1="377.00" x2="442.74" y2="323.73" stroke="#6a6a6a" stroke-width="0.75" />
<polygon points="443.70,317.50 444.57,324.01 440.91,323.44" fill="#111"/>
<line x1="437.30" y1="388.70" x2="446.09" y2="328.23" stroke="#6a6a6a" stroke-width="0.75" />
<polygon points="447.00,322.00 447.92,328.50 444.26,327.97" fill="#111"/>
<line x1="449.10" y1="395.80" x2="451.94" y2="327.09" stroke="#6a6a6a" stroke-width="0.75" />
<polygon points="452.20,320.80 453.79,327.17 450.09,327.02" fill="#111"/>
<line x1="467.20" y1="348.70" x2="467.04" y2="325.00" stroke="#6a6a6a" stroke-width="0.75" />
<polygon points="467.00,318.70 468.89,324.99 465.19,325.01" fill="#111"/>
<line x1="469.30" y1="425.20" x2="473.62" y2="378.77" stroke="#6a6a6a" stroke-width="0.75" />
<polygon points="474.20,372.50 475.46,378.94 471.77,378.60" fill="#111"/>
<line x1="468.20" y1="505.00" x2="477.01" y2="495.92" stroke="#6a6a6a" stroke-width="0.75" />
<polygon points="481.40,491.40 478.34,497.21 475.68,494.63" fill="#111"/>
<line x1="493.50" y1="446.30" x2="491.62" y2="409.29" stroke="#6a6a6a" stroke-width="0.75" />
<polygon points="491.30,403.00 493.47,409.20 489.77,409.39" fill="#111"/>
<line x1="496.40" y1="376.90" x2="495.77" y2="323.40" stroke="#6a6a6a" stroke-width="0.75" />
<polygon points="495.70,317.10 497.62,323.38 493.92,323.42" fill="#111"/>
<line x1="506.00" y1="348.70" x2="505.80" y2="336.40" stroke="#6a6a6a" stroke-width="0.75" />
<polygon points="505.70,330.10 507.65,336.37 503.95,336.43" fill="#111"/>
<line x1="517.20" y1="361.00" x2="516.96" y2="335.80" stroke="#6a6a6a" stroke-width="0.75" />
<polygon points="516.90,329.50 518.81,335.78 515.11,335.82" fill="#111"/>
<line x1="523.60" y1="381.80" x2="525.95" y2="348.78" stroke="#6a6a6a" stroke-width="0.75" />
<polygon points="526.40,342.50 527.80,348.92 524.11,348.65" fill="#111"/>
<line x1="531.90" y1="393.40" x2="532.69" y2="348.10" stroke="#6a6a6a" stroke-width="0.75" />
<polygon points="532.80,341.80 534.54,348.13 530.84,348.07" fill="#111"/>
<text transform="translate(276.50,408.60) scale(1.08,1)" y="3.04" font-size="8.5" text-anchor="middle" font-weight="normal" font-family="'Liberation Sans', sans-serif" fill="#1c1c1c" stroke="#1c1c1c" stroke-width="0.22">3265</text>
<text transform="translate(308.00,371.70) scale(1.08,1)" y="3.04" font-size="8.5" text-anchor="middle" font-weight="normal" font-family="'Liberation Sans', sans-serif" fill="#1c1c1c" stroke="#1c1c1c" stroke-width="0.22">2923</text>
<text transform="translate(327.00,362.80) scale(1.08,1)" y="3.04" font-size="8.5" text-anchor="middle" font-weight="normal" font-family="'Liberation Sans', sans-serif" fill="#1c1c1c" stroke="#1c1c1c" stroke-width="0.22">2889</text>
<text transform="translate(403.10,360.90) scale(1.08,1)" y="3.04" font-size="8.5" text-anchor="middle" font-weight="normal" font-family="'Liberation Sans', sans-serif" fill="#1c1c1c" stroke="#1c1c1c" stroke-width="0.22">1645</text>
<text transform="translate(420.60,370.60) scale(1.08,1)" y="3.04" font-size="8.5" text-anchor="middle" font-weight="normal" font-family="'Liberation Sans', sans-serif" fill="#1c1c1c" stroke="#1c1c1c" stroke-width="0.22">1540</text>
<text transform="translate(421.10,384.50) scale(1.08,1)" y="3.04" font-size="8.5" text-anchor="middle" font-weight="normal" font-family="'Liberation Sans', sans-serif" fill="#1c1c1c" stroke="#1c1c1c" stroke-width="0.22">1453</text>
<text transform="translate(431.00,397.20) scale(1.08,1)" y="3.04" font-size="8.5" text-anchor="middle" font-weight="normal" font-family="'Liberation Sans', sans-serif" fill="#1c1c1c" stroke="#1c1c1c" stroke-width="0.22">1414</text>
<text transform="translate(454.00,403.20) scale(1.08,1)" y="3.04" font-size="8.5" text-anchor="middle" font-weight="normal" font-family="'Liberation Sans', sans-serif" fill="#1c1c1c" stroke="#1c1c1c" stroke-width="0.22">1370</text>
<text transform="translate(463.30,354.60) scale(1.08,1)" y="3.04" font-size="8.5" text-anchor="middle" font-weight="normal" font-family="'Liberation Sans', sans-serif" fill="#1c1c1c" stroke="#1c1c1c" stroke-width="0.22">1218</text>
<text transform="translate(466.60,432.90) scale(1.08,1)" y="3.04" font-size="8.5" text-anchor="middle" font-weight="normal" font-family="'Liberation Sans', sans-serif" fill="#1c1c1c" stroke="#1c1c1c" stroke-width="0.22">1126</text>
<text transform="translate(460.30,512.60) scale(1.08,1)" y="3.04" font-size="8.5" text-anchor="middle" font-weight="normal" font-family="'Liberation Sans', sans-serif" fill="#1c1c1c" stroke="#1c1c1c" stroke-width="0.22">1021</text>
<text transform="translate(496.00,455.00) scale(1.08,1)" y="3.04" font-size="8.5" text-anchor="middle" font-weight="normal" font-family="'Liberation Sans', sans-serif" fill="#1c1c1c" stroke="#1c1c1c" stroke-width="0.22">972</text>
<text transform="translate(500.30,383.70) scale(1.08,1)" y="3.04" font-size="8.5" text-anchor="middle" font-weight="normal" font-family="'Liberation Sans', sans-serif" fill="#1c1c1c" stroke="#1c1c1c" stroke-width="0.22">908</text>
<text transform="translate(506.70,355.20) scale(1.08,1)" y="3.04" font-size="8.5" text-anchor="middle" font-weight="normal" font-family="'Liberation Sans', sans-serif" fill="#1c1c1c" stroke="#1c1c1c" stroke-width="0.22">809</text>
<text transform="translate(512.90,368.80) scale(1.08,1)" y="3.04" font-size="8.5" text-anchor="middle" font-weight="normal" font-family="'Liberation Sans', sans-serif" fill="#1c1c1c" stroke="#1c1c1c" stroke-width="0.22">674</text>
<text transform="translate(521.00,387.60) scale(1.08,1)" y="3.04" font-size="8.5" text-anchor="middle" font-weight="normal" font-family="'Liberation Sans', sans-serif" fill="#1c1c1c" stroke="#1c1c1c" stroke-width="0.22">573</text>
<text transform="translate(530.40,402.20) scale(1.08,1)" y="3.04" font-size="8.5" text-anchor="middle" font-weight="normal" font-family="'Liberation Sans', sans-serif" fill="#1c1c1c" stroke="#1c1c1c" stroke-width="0.22">512</text>
</svg>
</body></html>
